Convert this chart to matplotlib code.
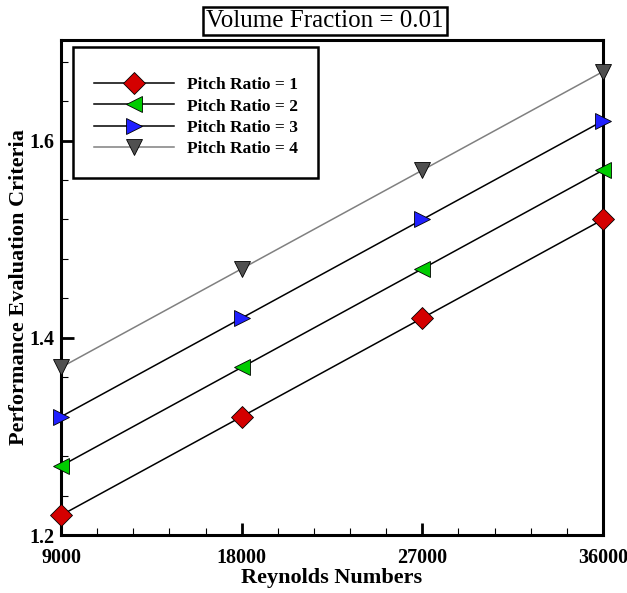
import numpy as np
import matplotlib.pyplot as plt

plt.rcParams['font.family'] = ['Liberation Serif', 'DejaVu Serif']

re = [9000, 18000, 27000, 36000]
pec_1 = [1.22, 1.32, 1.42, 1.52]
pec_2 = [1.27, 1.37, 1.47, 1.57]
pec_3 = [1.32, 1.42, 1.52, 1.62]
pec_4 = [1.37, 1.47, 1.57, 1.67]
labels = ['Pitch Ratio = 1', 'Pitch Ratio = 2', 'Pitch Ratio = 3', 'Pitch Ratio = 4']

fig = plt.figure(figsize=(6.27, 5.93), dpi=100)
ax = fig.add_axes([0.0973, 0.0978, 0.8644, 0.8347])

styles = [('D', '#d40000', 'black', 11),
          ('<', '#00cc00', 'black', 11),
          ('>', '#2020ff', 'black', 11),
          ('v', '#505050', '#808080', 11)]
for y, lab, (m, fc, lc, ms) in zip([pec_1, pec_2, pec_3, pec_4], labels, styles):
    ax.plot(re, y, color=lc, lw=1.1, marker=m, markersize=ms, markerfacecolor=fc,
            markeredgecolor='black', markeredgewidth=0.6, label=lab, clip_on=False, zorder=3)

ax.set_xlim(9000, 36000)
ax.set_ylim(1.2, 1.702)
ax.set_xticks(re)
ax.set_xticks(np.arange(9000, 36001, 1800), minor=True)
ax.set_yticks([1.2, 1.4, 1.6])
ax.set_yticks(np.arange(1.2, 1.701, 0.04), minor=True)
ax.tick_params(which='major', direction='in', length=9, width=2, labelsize=14.5)
ax.tick_params(axis='x', which='major', pad=9)
ax.tick_params(axis='y', which='major', pad=5)
ax.tick_params(which='minor', direction='in', length=5, width=0.8)
for t in ax.get_xticklabels() + ax.get_yticklabels():
    t.set_fontweight('bold')
for s in ax.spines.values():
    s.set_linewidth(2.2)

ax.set_xlabel('Reynolds Numbers', fontsize=16, fontweight='bold', labelpad=0)
ax.set_ylabel('Performance Evaluation Criteria', fontsize=16, fontweight='bold', labelpad=0)

# tiny blank title pushes the rows down a bit, like the original
leg = ax.legend(loc='upper left', bbox_to_anchor=(0.022, 0.986), borderaxespad=0,
                fancybox=False, edgecolor='black', framealpha=1,
                prop={'weight': 'bold', 'size': 12.5}, title=' ', title_fontsize=3,
                handlelength=4.6, labelspacing=0.3, borderpad=1.2, handletextpad=0.75)
leg.get_frame().set_linewidth(1.8)

fig.text(0.518, 0.964, 'Volume Fraction = 0.01', ha='center', va='center', fontsize=18,
         bbox=dict(boxstyle='square,pad=0.12', fc='white', ec='black', lw=1.8))

fig.savefig('out.png', dpi=100)
